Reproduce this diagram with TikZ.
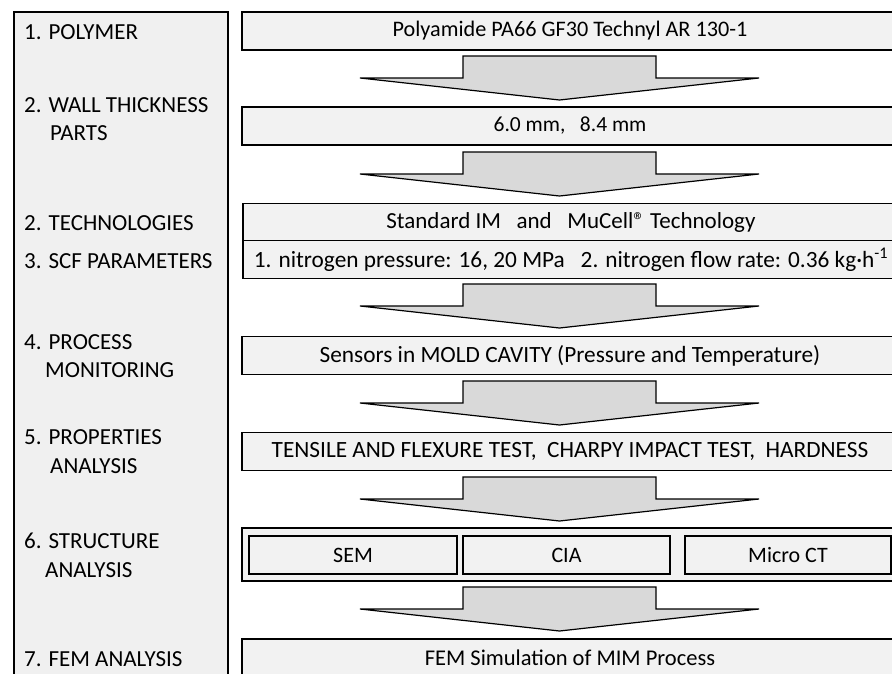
\documentclass[tikz,border=0pt]{standalone}
\usepackage{fontspec}
\setmainfont{Carlito}
\definecolor{panelgray}{HTML}{F0F0F0}
\definecolor{boxgray}{HTML}{F2F2F2}
\definecolor{arrowgray}{HTML}{D9D9D9}
\newcommand\setsz[1]{\fontsize{#1}{#1}\selectfont}
\tikzset{
  stage/.style={draw, line width=1.2pt, fill=boxgray, minimum width=656pt,
    minimum height=38pt, inner sep=0pt},
  method/.style={draw, line width=1.2pt, fill=boxgray, minimum height=38pt,
    inner sep=0pt},
  steptext/.style={anchor=base west, inner sep=0pt, font=\setsz{23}},
  flowarrow/.style={draw, line width=1.2pt, fill=arrowgray, line join=miter}
}

\begin{document}
\begin{tikzpicture}[x=1pt, y=-1pt, font=\setsz{22}]
  \useasboundingbox (0,0) rectangle (892,673);
  \clip (0,0) rectangle (892,673);

  % left column
  \draw[line width=1.2pt, fill=panelgray] (14,12) rectangle (228,700);
  \node[steptext] (lpoly) at (24,39) {1. POLYMER};
  \node[steptext] (lwall) at (24,112) {2. WALL THICKNESS};
  \node[steptext] (lwallb) at (50,140) {PARTS};
  \node[steptext] (ltech) at (24,230) {2. TECHNOLOGIES};
  \node[steptext] (lscf) at (24,268) {3. SCF PARAMETERS};
  \node[steptext] (lproc) at (24,349) {4. PROCESS};
  \node[steptext] (lprocb) at (45,377) {MONITORING};
  \node[steptext] (lprop) at (24,444) {5. PROPERTIES};
  \node[steptext] (lpropb) at (50,473) {ANALYSIS};
  \node[steptext] (lstruct) at (24,548) {6. STRUCTURE};
  \node[steptext] (lstructb) at (45,577) {ANALYSIS};
  \node[steptext] (lfem) at (24,666) {7. FEM ANALYSIS};

  % block arrows
  \foreach \t in {56,152,284,381,477,587}
    \draw[flowarrow] (463,\t) -- (656,\t) -- (656,\t+22) -- (759,\t+22)
      -- (559.5,\t+44) -- (360,\t+22) -- (463,\t+22) -- cycle;

  % right column
  \node[stage, font=\setsz{22.2}] (polymer) at (570,31) {Polyamide PA66 GF30 Technyl AR 130-1};
  \node[stage, font=\setsz{21.5}] (wall) at (570,126) {6.0 mm,\ \ \ 8.4 mm};
  \node[stage, font=\setsz{23}] (tech) at (571,222.5) {Standard IM\ \ \ and\ \ \ MuCell® Technology};
  \node[stage, font=\setsz{23.3}] (scf) at (571,259.5) {1. nitrogen pressure: 16, 20 MPa\ \ \ 2. nitrogen flow rate: 0.36 kg·h\textsuperscript{-1}};
  \node[stage, font=\setsz{23.3}] (monitor) at (570,355.5) {Sensors in MOLD CAVITY (Pressure and Temperature)};
  \node[stage, font=\setsz{23.3}] (props) at (570,451.5) {TENSILE AND FLEXURE TEST,\ \ CHARPY IMPACT TEST,\ \ HARDNESS};
  \node[stage, minimum height=53pt] (struct) at (570,554.5) {};
  \node[method, minimum width=208pt] (sem) at (353,555) {SEM};
  \node[method, minimum width=207pt] (cia) at (566.5,555) {CIA};
  \node[method, minimum width=206pt] (ct) at (788,555) {Micro CT};
  \node[stage, font=\setsz{22.5}] (fem) at (570,658) {FEM Simulation of MIM Process};
\end{tikzpicture}
\end{document}
